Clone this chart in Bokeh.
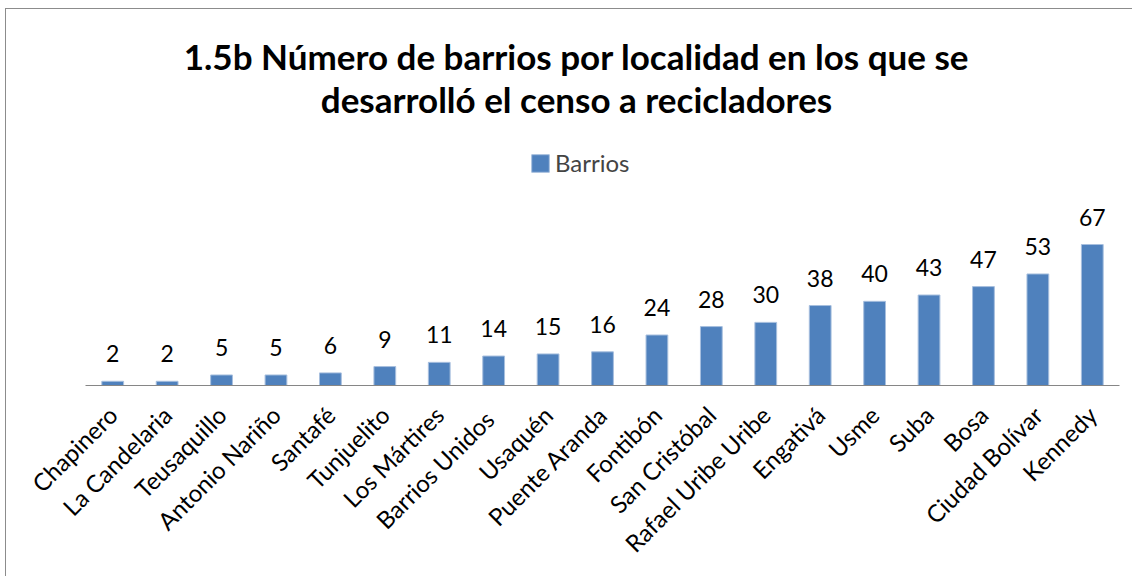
from bokeh.plotting import figure
from bokeh.models import ColumnDataSource, LabelSet, Label, Legend, LegendItem, Range1d, FactorRange
from bokeh.core.properties import value
from bokeh.embed import file_html
from bokeh.resources import INLINE
import math

localidades = ["Chapinero", "La Candelaria", "Teusaquillo", "Antonio Nariño", "Santafé",
               "Tunjuelito", "Los Mártires", "Barrios  Unidos", "Usaquén", "Puente Aranda",
               "Fontibón", "San Cristóbal", "Rafael Uribe Uribe", "Engativá", "Usme",
               "Suba", "Bosa", "Ciudad Bolívar", "Kennedy"]
barrios = [2, 2, 5, 5, 6, 9, 11, 14, 15, 16, 24, 28, 30, 38, 40, 43, 47, 53, 67]
serie = "Barrios"
titulo_1 = "1.5b Número de barrios por localidad en los que se"
titulo_2 = "desarrolló el censo a recicladores"

FONT = "Lato"

src = ColumnDataSource(dict(x=localidades, y=barrios, lbl=[str(v) for v in barrios]))

p = figure(width=1127, height=568, output_backend="svg", toolbar_location=None, title=None,
           x_range=FactorRange(*localidades), y_range=Range1d(0, 178.7),
           min_border_left=79, min_border_right=14, min_border_top=0, min_border_bottom=192)
p.styles = {"margin-left": "5px", "margin-top": "8px",
            "border-left": "1px solid #8c8c8c", "border-top": "1px solid #8c8c8c"}

r = p.vbar(x="x", top="y", width=0.4, source=src, fill_color="#4F81BD", line_color="#A7BFDE", line_width=1)

labels = LabelSet(x="x", y="y", text="lbl", source=src, text_align="center", text_baseline="alphabetic",
                  y_offset=19, text_font=value(FONT), text_font_size=value("23px"), text_color="black")
p.add_layout(labels)

for txt, ys in ((titulo_1, 330), (titulo_2, 287)):
    p.add_layout(Label(x=491, y=ys, x_units="screen", y_units="screen", text=txt,
                       text_align="center", text_baseline="middle", text_font=FONT,
                       text_font_size="35px", text_font_style="bold", text_color="black"))

legend = Legend(items=[LegendItem(label=serie, renderers=[r])], location=(444, 208),
                label_text_font=FONT, label_text_font_size="24px", glyph_width=22, glyph_height=22,
                border_line_color=None, background_fill_alpha=0, label_standoff=4, padding=0, spacing=0)
p.add_layout(legend)

p.yaxis.visible = False
p.xgrid.grid_line_color = None
p.ygrid.grid_line_color = None
p.outline_line_color = None
p.xaxis.axis_line_color = "#868686"
p.xaxis.major_tick_line_color = None
p.xaxis.minor_tick_line_color = None
p.xaxis.major_label_orientation = math.pi / 4
p.xaxis.major_label_text_font = FONT
p.xaxis.major_label_text_font_size = "24px"
p.xaxis.major_label_text_color = "black"
p.xaxis.major_label_standoff = 19

open("out.html", "w").write(file_html(p, INLINE))
